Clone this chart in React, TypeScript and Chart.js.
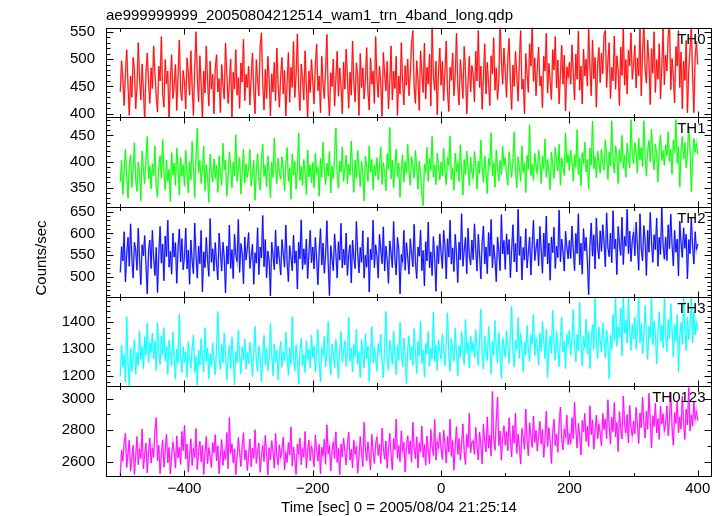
import React, { useEffect, useRef } from 'react';
import { Chart, registerables } from 'chart.js';

Chart.register(...registerables);

const FONT = '"Liberation Sans", Arial, Helvetica, sans-serif';

const TITLE = 'ae999999999_20050804212514_wam1_trn_4band_long.qdp';
const X_TITLE = 'Time [sec] 0 = 2005/08/04 21:25:14';
const Y_TITLE = 'Counts/sec';

// light-curve bins
const TIME_START = -500;
const BIN_SIZE = 2;

const BANDS = ['TH0', 'TH1', 'TH2', 'TH3', 'TH0123'];
const COLORS = ['#ff0000', '#00ff00', '#0000ff', '#00ffff', '#ff00ff'];
const LIGHT_COLORS = [
  'rgba(255,0,0,0.35)',
  'rgba(0,255,0,0.35)',
  'rgba(0,0,255,0.35)',
  'rgba(0,255,255,0.35)',
  'rgba(255,0,255,0.35)',
];

const TH0 = [
  440, 497, 463, 415, 476, 517, 452, 397, 469, 430, 503, 481, 409, 448, 530, 464, 425, 491, 443, 388, 475, 511, 457, 419, 484,
  446, 524, 473, 432, 403, 487, 460, 541, 438, 412, 499, 455, 478, 384, 464, 508, 428, 452, 490, 406, 470, 535, 442, 424, 479,
  458, 409, 502, 475, 434, 515, 448, 397, 485, 550, 469, 422, 506, 454, 391, 478, 438, 524, 461, 414, 496, 445, 472, 400, 484,
  508, 440, 464, 402, 490, 452, 427, 529, 473, 419, 457, 500, 394, 476, 445, 517, 434, 466, 410, 493, 458, 536, 424, 472, 448,
  487, 416, 467, 511, 443, 400, 499, 460, 433, 524, 548, 455, 407, 481, 428, 505, 463, 396, 473, 440, 494, 424, 520, 452, 412,
  469, 503, 436, 479, 396, 457, 512, 421, 485, 448, 532, 430, 472, 546, 446, 406, 491, 464, 425, 515, 452, 390, 478, 439, 499,
  460, 418, 488, 527, 442, 469, 402, 505, 455, 428, 481, 545, 438, 396, 475, 450, 500, 414, 463, 514, 432, 484, 451, 400, 494,
  445, 518, 466, 410, 476, 434, 533, 457, 422, 493, 470, 397, 510, 448, 484, 427, 463, 521, 440, 407, 502, 454, 478, 419, 541,
  464, 430, 487, 454, 395, 512, 473, 442, 496, 409, 458, 524, 425, 478, 446, 505, 397, 469, 436, 530, 460, 416, 488, 452, 500,
  433, 472, 530, 552, 448, 419, 497, 461, 406, 515, 475, 439, 529, 427, 485, 454, 509, 414, 560, 469, 443, 496, 398, 478, 520,
  452, 496, 424, 476, 533, 442, 404, 485, 461, 511, 433, 470, 547, 451, 416, 499, 467, 428, 523, 479, 400, 458, 505, 440, 488,
  472, 422, 514, 460, 552, 448, 487, 408, 467, 528, 436, 494, 455, 415, 506, 473, 539, 443, 484, 426, 464, 568, 497, 454, 520,
  477, 430, 501, 538, 457, 408, 489, 450, 514, 471, 423, 496, 552, 445, 463, 400, 510, 474, 439, 528, 487, 560, 459, 502, 433,
  483, 522, 451, 469, 411, 505, 478, 547, 438, 492, 460, 426, 517, 480, 541, 447, 498, 418, 472, 525, 454, 507, 405, 486, 466,
  494, 454, 526, 475, 425, 509, 463, 551, 443, 487, 418, 518, 469, 500, 451, 556, 482, 433, 535, 464, 503, 412, 491, 521, 457,
  511, 473, 545, 552, 448, 496, 530, 428, 485, 460, 542, 445, 506, 479, 415, 522, 470, 555, 452, 499, 436, 516, 488, 548, 463,
  489, 525, 447, 502, 469, 555, 433, 513, 565, 481, 456, 535, 495, 417, 519, 474, 550, 439, 499, 463, 528, 427, 486, 555, 453,
  507, 478, 541, 572, 444, 501, 469, 420, 523, 487, 552, 448, 513, 409, 496, 461, 534, 402, 479, 517, 560, 470, 402, 504, 532,
  490,
];

const TH1 = [
  361, 402, 337, 381, 424, 370, 330, 393, 412, 351, 387, 436, 364, 343, 399, 378, 325, 420, 384, 358, 406, 448, 367, 391, 348,
  396, 373, 430, 352, 333, 390, 411, 368, 442, 379, 346, 403, 362, 385, 324, 417, 375, 397, 355, 426, 388, 336, 408, 372, 394,
  353, 421, 382, 340, 400, 365, 438, 388, 331, 409, 464, 378, 402, 358, 385, 429, 344, 394, 371, 322, 414, 381, 361, 405, 368,
  393, 341, 411, 376, 355, 435, 384, 403, 334, 367, 418, 391, 350, 399, 373, 451, 362, 385, 408, 338, 379, 424, 359, 396, 370,
  388, 423, 353, 376, 402, 326, 382, 415, 365, 346, 405, 433, 371, 393, 352, 411, 379, 331, 399, 370, 445, 387, 358, 406, 377,
  367, 409, 385, 344, 396, 427, 362, 388, 328, 414, 374, 400, 347, 383, 455, 364, 391, 355, 404, 380, 337, 422, 371, 394, 359,
  398, 350, 416, 377, 388, 334, 406, 370, 437, 383, 356, 397, 373, 419, 340, 391, 367, 410, 464, 376, 349, 401, 380, 428, 362,
  386, 412, 358, 395, 374, 439, 383, 341, 403, 368, 421, 388, 352, 400, 377, 325, 410, 389, 362, 430, 380, 404, 346, 394, 373,
  407, 365, 391, 427, 356, 398, 379, 344, 415, 385, 465, 367, 403, 350, 389, 424, 371, 397, 332, 386, 413, 361, 400, 377, 433,
  382, 355, 409, 392, 368, 421, 388, 347, 401, 374, 337, 316, 395, 379, 427, 362, 406, 383, 448, 370, 394, 356, 416, 389, 365,
  399, 372, 425, 382, 356, 407, 393, 449, 366, 387, 345, 416, 380, 398, 362, 432, 384, 336, 404, 375, 420, 390, 354, 408, 381,
  368, 419, 395, 347, 401, 377, 441, 389, 360, 411, 383, 339, 405, 392, 455, 372, 398, 351, 422, 384, 363, 402, 375, 429, 393,
  406, 376, 355, 419, 392, 370, 403, 457, 382, 350, 409, 389, 362, 430, 379, 398, 341, 412, 385, 470, 373, 395, 364, 416, 391,
  377, 422, 400, 358, 410, 386, 443, 370, 404, 380, 346, 418, 394, 368, 427, 401, 382, 433, 355, 407, 389, 373, 455, 397, 413,
  383, 422, 401, 363, 413, 389, 461, 375, 407, 354, 417, 396, 437, 380, 404, 347, 426, 393, 477, 386, 410, 369, 420, 398, 378,
  424, 397, 384, 441, 409, 366, 418, 391, 478, 402, 378, 430, 411, 358, 423, 398, 450, 387, 412, 370, 435, 406, 388, 480, 414,
  396, 436, 417, 378, 445, 403, 427, 390, 478, 412, 372, 421, 440, 399, 462, 409, 384, 433, 415, 361, 424, 451, 402, 420, 393,
  432, 411, 457, 400, 423, 376, 441, 417, 480, 397, 429, 351, 421, 448, 405, 436, 388, 414, 467, 426, 343, 408, 444, 418, 435,
  414,
];

const TH2 = [
  511, 570, 537, 604, 489, 553, 591, 525, 622, 544, 498, 580, 562, 516, 612, 540, 483, 574, 549, 595, 529, 462, 561, 585, 520,
  607, 543, 504, 568, 465, 552, 616, 532, 576, 492, 594, 547, 630, 523, 559, 507, 601, 546, 579, 486, 567, 610, 535, 588, 517,
  546, 612, 519, 562, 484, 585, 537, 508, 624, 550, 498, 571, 531, 607, 466, 558, 522, 591, 540, 502, 634, 534, 565, 514, 579,
  532, 494, 601, 557, 514, 580, 545, 464, 571, 530, 619, 520, 563, 497, 598, 550, 536, 632, 511, 577, 554, 485, 592, 539, 566,
  602, 520, 548, 575, 484, 556, 532, 613, 506, 569, 544, 641, 524, 586, 499, 560, 538, 457, 580, 551, 517, 608, 530, 571, 542,
  505, 586, 554, 523, 619, 536, 490, 572, 547, 515, 596, 532, 560, 473, 580, 542, 631, 518, 565, 529, 587, 497, 553, 607, 533,
  569, 519, 591, 542, 483, 560, 611, 528, 578, 509, 552, 629, 534, 458, 572, 543, 515, 599, 555, 498, 581, 539, 623, 521, 564,
  528, 601, 504, 552, 574, 487, 585, 544, 520, 627, 558, 510, 568, 534, 606, 498, 550, 523, 591, 466, 564, 540, 630, 522, 574,
  549, 498, 598, 562, 531, 615, 514, 571, 540, 486, 583, 556, 522, 627, 543, 505, 591, 565, 462, 552, 534, 607, 516, 579, 546,
  507, 588, 555, 524, 621, 534, 497, 569, 548, 608, 515, 561, 480, 581, 537, 626, 521, 558, 504, 593, 545, 468, 572, 531, 599,
  555, 520, 607, 573, 496, 588, 546, 630, 530, 567, 513, 598, 556, 488, 580, 540, 645, 525, 562, 591, 508, 612, 549, 528, 585,
  540, 622, 563, 514, 598, 551, 496, 580, 617, 530, 569, 508, 602, 548, 632, 521, 574, 541, 490, 592, 559, 515, 643, 553, 584,
  518, 599, 552, 586, 499, 563, 620, 535, 577, 512, 655, 550, 593, 494, 568, 539, 611, 521, 557, 592, 505, 574, 630, 538, 565,
  587, 526, 616, 560, 509, 601, 547, 640, 530, 578, 493, 592, 556, 614, 520, 571, 545, 653, 535, 587, 559, 514, 605, 569, 542,
  584, 543, 617, 564, 515, 600, 554, 645, 528, 578, 507, 611, 560, 591, 537, 460, 572, 624, 548, 597, 519, 635, 569, 542, 606,
  559, 620, 580, 524, 647, 568, 547, 601, 533, 652, 565, 587, 506, 616, 575, 550, 637, 529, 593, 571, 655, 554, 605, 536, 584,
  603, 549, 626, 572, 516, 645, 565, 537, 618, 584, 504, 607, 557, 648, 580, 534, 597, 563, 635, 525, 591, 552, 658, 574, 541,
  592, 538, 620, 565, 644, 574, 526, 607, 557, 587, 503, 628, 578, 545, 613, 566, 598, 496, 586, 554, 637, 571, 530, 604, 563,
  576,
];

const TH3 = [
  1200, 1315, 1234, 1280, 1178, 1420, 1252, 1165, 1304, 1218, 1272, 1336, 1207, 1288, 1240, 1368, 1262, 1310, 1228, 1346, 1279, 1396, 1250, 1322, 1290,
  1360, 1264, 1332, 1222, 1400, 1298, 1243, 1351, 1279, 1380, 1256, 1312, 1206, 1334, 1285, 1238, 1363, 1267, 1189, 1302, 1248, 1430, 1276, 1214, 1309,
  1251, 1292, 1196, 1329, 1264, 1230, 1306, 1353, 1214, 1274, 1167, 1296, 1240, 1340, 1269, 1216, 1380, 1256, 1305, 1190, 1284, 1238, 1324, 1258, 1206,
  1302, 1440, 1268, 1224, 1318, 1248, 1360, 1282, 1185, 1266, 1314, 1228, 1346, 1276, 1168, 1293, 1250, 1371, 1272, 1209, 1310, 1260, 1338, 1226, 1288,
  1246, 1326, 1278, 1200, 1299, 1384, 1256, 1218, 1312, 1274, 1180, 1287, 1352, 1242, 1304, 1221, 1263, 1396, 1282, 1202, 1320, 1254, 1296, 1186, 1280,
  1329, 1233, 1290, 1256, 1364, 1274, 1204, 1306, 1244, 1420, 1268, 1221, 1316, 1260, 1170, 1293, 1341, 1238, 1280, 1214, 1332, 1263, 1300, 1230, 1352,
  1268, 1312, 1216, 1294, 1373, 1256, 1180, 1304, 1277, 1348, 1235, 1285, 1403, 1264, 1206, 1319, 1286, 1232, 1337, 1272, 1193, 1301, 1366, 1250, 1292,
  1332, 1237, 1279, 1418, 1256, 1304, 1216, 1318, 1273, 1375, 1244, 1292, 1196, 1336, 1282, 1231, 1358, 1264, 1312, 1180, 1286, 1384, 1250, 1303, 1267,
  1219, 1321, 1286, 1356, 1254, 1195, 1306, 1440, 1270, 1222, 1333, 1292, 1244, 1368, 1276, 1206, 1315, 1260, 1400, 1288, 1234, 1342, 1272, 1171, 1304,
  1350, 1262, 1311, 1240, 1377, 1288, 1210, 1329, 1275, 1405, 1248, 1298, 1197, 1322, 1282, 1366, 1236, 1304, 1264, 1438, 1254, 1317, 1222, 1335, 1292,
  1264, 1357, 1303, 1238, 1322, 1435, 1278, 1219, 1340, 1296, 1256, 1378, 1282, 1201, 1314, 1268, 1366, 1300, 1243, 1410, 1286, 1326, 1231, 1350, 1294,
  1324, 1269, 1371, 1305, 1240, 1336, 1449, 1282, 1227, 1350, 1296, 1258, 1384, 1314, 1208, 1330, 1278, 1407, 1304, 1248, 1362, 1290, 1191, 1342, 1312,
  1270, 1369, 1316, 1248, 1350, 1459, 1288, 1234, 1333, 1298, 1417, 1266, 1360, 1308, 1218, 1327, 1280, 1388, 1302, 1255, 1354, 1320, 1429, 1276, 1340,
  1312, 1242, 1360, 1293, 1402, 1334, 1266, 1374, 1196, 1308, 1350, 1284, 1444, 1324, 1258, 1366, 1302, 1236, 1346, 1418, 1290, 1329, 1228, 1356, 1317,
  1372, 1277, 1334, 1448, 1313, 1254, 1355, 1294, 1474, 1326, 1238, 1348, 1304, 1412, 1284, 1366, 1229, 1338, 1391, 1298, 1490, 1320, 1266, 1382, 1332,
  1290, 1398, 1340, 1269, 1371, 1318, 1190, 1352, 1300, 1428, 1332, 1495, 1311, 1383, 1344, 1454, 1276, 1495, 1358, 1406, 1323, 1495, 1372, 1296, 1392,
  1338, 1419, 1300, 1371, 1495, 1324, 1396, 1284, 1353, 1462, 1335, 1263, 1384, 1341, 1500, 1317, 1404, 1356, 1246, 1366, 1438, 1328, 1389, 1305, 1488,
  1358, 1292, 1410, 1340, 1469, 1374, 1271, 1392, 1330, 1428, 1216, 1349, 1400, 1318, 1500, 1367, 1296, 1418, 1336, 1384, 1500, 1324, 1439, 1352, 1403,
  1370,
];

const TH0123 = [
  2515, 2672, 2604, 2723, 2780, 2564, 2652, 2738, 2540, 2626, 2704, 2520, 2638, 2760, 2582, 2681, 2620, 2807, 2555, 2646, 2718, 2531, 2663, 2750, 2592,
  2685, 2628, 2798, 2880, 2606, 2704, 2525, 2652, 2736, 2566, 2673, 2774, 2594, 2691, 2522, 2636, 2724, 2661, 2560, 2764, 2625, 2692, 2583, 2792, 2670,
  2830, 2618, 2712, 2534, 2647, 2746, 2576, 2683, 2628, 2810, 2551, 2665, 2730, 2600, 2704, 2520, 2652, 2761, 2588, 2689, 2632, 2564, 2722, 2658, 2772,
  2605, 2701, 2524, 2640, 2740, 2578, 2671, 2614, 2785, 2557, 2880, 2653, 2714, 2594, 2682, 2518, 2626, 2754, 2660, 2570, 2698, 2784, 2611, 2674, 2545,
  2646, 2744, 2568, 2686, 2622, 2803, 2590, 2666, 2719, 2533, 2635, 2702, 2602, 2767, 2654, 2516, 2690, 2611, 2734, 2664, 2560, 2779, 2640, 2581, 2708,
  2623, 2680, 2756, 2550, 2659, 2596, 2722, 2642, 2820, 2572, 2694, 2616, 2520, 2712, 2648, 2750, 2582, 2683, 2629, 2792, 2560, 2670, 2737, 2606, 2700,
  2656, 2569, 2770, 2676, 2604, 2710, 2525, 2692, 2638, 2742, 2584, 2834, 2650, 2702, 2542, 2668, 2726, 2620, 2790, 2596, 2684, 2518, 2713, 2630, 2749,
  2667, 2580, 2704, 2788, 2610, 2679, 2562, 2736, 2649, 2696, 2528, 2630, 2760, 2658, 2571, 2850, 2686, 2606, 2727, 2644, 2548, 2774, 2670, 2589, 2714,
  2758, 2640, 2711, 2590, 2813, 2689, 2616, 2732, 2560, 2681, 2780, 2648, 2549, 2746, 2675, 2870, 2622, 2702, 2600, 2796, 2666, 2723, 2536, 2694, 2765,
  2649, 2733, 2598, 2850, 2686, 2620, 2758, 2562, 2720, 2662, 2826, 2628, 2709, 2578, 2764, 2674, 2589, 2804, 2697, 2640, 2868, 2610, 2730, 2684, 2786,
  2681, 2615, 2799, 2716, 2592, 2760, 2662, 2871, 2634, 2734, 2546, 2697, 2822, 2647, 2748, 2610, 2710, 2840, 2667, 2583, 2774, 2692, 2907, 2657, 2724,
  2734, 2647, 2818, 2696, 2612, 2789, 2710, 2586, 2837, 2728, 2663, 2884, 2686, 2768, 2636, 3045, 2744, 2674, 2862, 3010, 2702, 2795, 2610, 2756, 2828,
  2704, 2792, 2670, 2878, 2740, 2631, 2829, 2718, 2908, 2652, 2775, 2696, 2585, 2811, 2752, 2679, 2934, 2734, 2639, 2847, 2761, 2691, 2890, 2722, 2799,
  2668, 2767, 2856, 2712, 2804, 2629, 2746, 2920, 2696, 2816, 2730, 2589, 2788, 2869, 2702, 2776, 2660, 2838, 2947, 2740, 2676, 2807, 2752, 2895, 2709,
  2778, 2711, 2879, 2746, 2978, 2810, 2688, 2844, 2768, 2643, 2862, 2790, 2906, 2729, 2824, 2697, 2954, 2772, 2866, 2679, 2798, 2895, 2744, 2838, 2781,
  2702, 2906, 2804, 2872, 2746, 2993, 2824, 2711, 2882, 2791, 2975, 2758, 2849, 2665, 2918, 2808, 2744, 3016, 2837, 2782, 2898, 2720, 2956, 2819, 2762,
  2859, 2776, 2944, 2833, 2716, 2910, 2815, 3010, 2850, 2751, 2920, 2806, 3034, 2863, 2688, 2892, 2824, 2970, 2782, 2874, 2742, 2953, 2840, 2905, 2792,
  2846, 2954, 2765, 2875, 3041, 2818, 2704, 2911, 2842, 2980, 2783, 2884, 2807, 3014, 2851, 2741, 2932, 2834, 3070, 2795, 2897, 2826, 2986, 2868, 2922,
  2860,
];

const SERIES = [TH0, TH1, TH2, TH3, TH0123];

// axis settings
const X_MIN = -522.3;
const X_MAX = 420.7;
const X_TICKS = [-400, -200, 0, 200, 400];
const X_MINOR_STEP = 100;

const Y_MIN = [393.7, 313.4, 455.7, 1163, 2510];
const Y_MAX = [557.7, 484.7, 660.7, 1495, 3078];
const Y_TICKS = [
  [400, 450, 500, 550],
  [350, 400, 450],
  [500, 550, 600, 650],
  [1200, 1300, 1400],
  [2600, 2800, 3000],
];
const Y_MINOR_STEP = [10, 10, 10, 20, 100];

const fmtX = (v: number) => (v < 0 ? '\u2212' + Math.abs(v) : String(v));

const qdpPlugin = {
  id: 'qdpFrame',
  beforeDatasetDraw(chart: any, args: any) {
    const meta = args.meta;
    const ys = chart.scales[meta.yAxisID];
    const ca = chart.chartArea;
    const ctx = chart.ctx;
    ctx.save();
    ctx.beginPath();
    ctx.rect(ca.left, ys.top, ca.right - ca.left, ys.bottom - ys.top);
    ctx.clip();
  },
  afterDatasetDraw(chart: any) {
    chart.ctx.restore();
  },
  afterDraw(chart: any) {
    const ctx = chart.ctx as CanvasRenderingContext2D;
    const ca = chart.chartArea;
    const xs = chart.scales.x;
    const L = Math.round(ca.left) + 0.5;
    const R = Math.round(ca.right) + 0.5;
    const line = (x1: number, y1: number, x2: number, y2: number) => {
      ctx.beginPath();
      ctx.moveTo(x1, y1);
      ctx.lineTo(x2, y2);
      ctx.stroke();
    };
    ctx.save();
    ctx.strokeStyle = '#000';
    ctx.lineWidth = 1;
    BANDS.forEach((name, i) => {
      const ys = chart.scales['y' + i];
      const T = Math.round(ys.top) + 0.5;
      const B = Math.round(ys.bottom) + 0.5;
      ctx.strokeRect(L, T, R - L, B - T);
      const drawY = (v: number, len: number) => {
        const p = Math.round(ys.getPixelForValue(v)) + 0.5;
        line(L, p, L + len, p);
        line(R - len, p, R, p);
      };
      const step = Y_MINOR_STEP[i];
      for (let v = Math.ceil(ys.min / step) * step; v <= ys.max; v += step) {
        drawY(v, Y_TICKS[i].includes(v) ? 7 : 4);
      }
      for (let v = Math.ceil(xs.min / X_MINOR_STEP) * X_MINOR_STEP; v <= xs.max; v += X_MINOR_STEP) {
        const p = Math.round(xs.getPixelForValue(v)) + 0.5;
        const len = X_TICKS.includes(v) ? 6 : 3.5;
        line(p, T, p, T + len);
        line(p, B - len, p, B);
      }
      ctx.fillStyle = '#000';
      ctx.font = '15px ' + FONT;
      ctx.textAlign = 'right';
      ctx.textBaseline = 'alphabetic';
      ctx.fillText(name, R - 6, ys.top + 16);
    });
    ctx.fillStyle = '#000';
    ctx.font = '15px ' + FONT;
    ctx.textAlign = 'center';
    ctx.textBaseline = 'alphabetic';
    ctx.fillText(X_TITLE, 399, 512);
    ctx.save();
    ctx.translate(45.5, 258);
    ctx.rotate(-Math.PI / 2);
    ctx.fillText(Y_TITLE, 0, 0);
    ctx.restore();
    ctx.restore();
  },
};

export default function App() {
  const canvasRef = useRef<HTMLCanvasElement | null>(null);

  useEffect(() => {
    if (!canvasRef.current) return;
    Chart.defaults.font.family = FONT;

    const datasets: any[] = [];
    SERIES.forEach((vals, i) => {
      const pts = vals.map((v, k) => ({ x: TIME_START + k * BIN_SIZE, y: v }));
      datasets.push({
        label: BANDS[i] + ' err',
        data: pts,
        yAxisID: 'y' + i,
        xAxisID: 'x',
        borderColor: LIGHT_COLORS[i],
        borderWidth: 1.8,
        pointRadius: 0,
        tension: 0,
        fill: false,
      });
      datasets.push({
        label: BANDS[i],
        data: pts,
        yAxisID: 'y' + i,
        xAxisID: 'x',
        borderColor: COLORS[i],
        borderWidth: 0.9,
        pointRadius: 0,
        tension: 0,
        fill: false,
      });
    });

    const scales: any = {
      x: {
        type: 'linear',
        position: 'bottom',
        min: X_MIN,
        max: X_MAX,
        grid: { display: false, drawTicks: false },
        border: { display: false },
        ticks: {
          color: '#000',
          font: { family: FONT, size: 15 },
          padding: 4,
          autoSkip: false,
          maxRotation: 0,
          callback: (v: any) => fmtX(Number(v)),
        },
        afterBuildTicks: (s: any) => {
          s.ticks = X_TICKS.map((v) => ({ value: v }));
        },
        afterFit: (s: any) => {
          s.height = 40;
        },
      },
    };
    BANDS.forEach((_, i) => {
      scales['y' + i] = {
        type: 'linear',
        position: 'left',
        stack: 'panels',
        stackWeight: 1,
        weight: 10 - i,
        min: Y_MIN[i],
        max: Y_MAX[i],
        grid: { display: false, drawTicks: false },
        border: { display: false },
        ticks: {
          color: '#000',
          font: { family: FONT, size: 15 },
          padding: 11,
          autoSkip: false,
          callback: (v: any) => String(v),
        },
        afterBuildTicks: (s: any) => {
          s.ticks = Y_TICKS[i].map((v) => ({ value: v }));
        },
        afterFit: (s: any) => {
          s.width = 106;
        },
      };
    });

    const chart = new Chart(canvasRef.current, {
      type: 'line',
      data: { datasets },
      options: {
        animation: false,
        responsive: true,
        maintainAspectRatio: false,
        layout: { padding: { left: 0, right: 12, top: 0, bottom: 0 } },
        plugins: {
          legend: { display: false },
          tooltip: { enabled: false },
          title: {
            display: true,
            text: TITLE,
            align: 'start',
            fullSize: false,
            color: '#000',
            font: { family: FONT, size: 15, weight: 'normal', lineHeight: 1.2 },
            padding: { top: 7, bottom: 2.5 },
          },
        },
        scales,
      },
      plugins: [qdpPlugin],
    } as any);

    return () => chart.destroy();
  }, []);

  return (
    <div style={{ position: 'fixed', left: 0, top: 0, width: 723, height: 516, background: '#fff' }}>
      <canvas ref={canvasRef} />
    </div>
  );
}
